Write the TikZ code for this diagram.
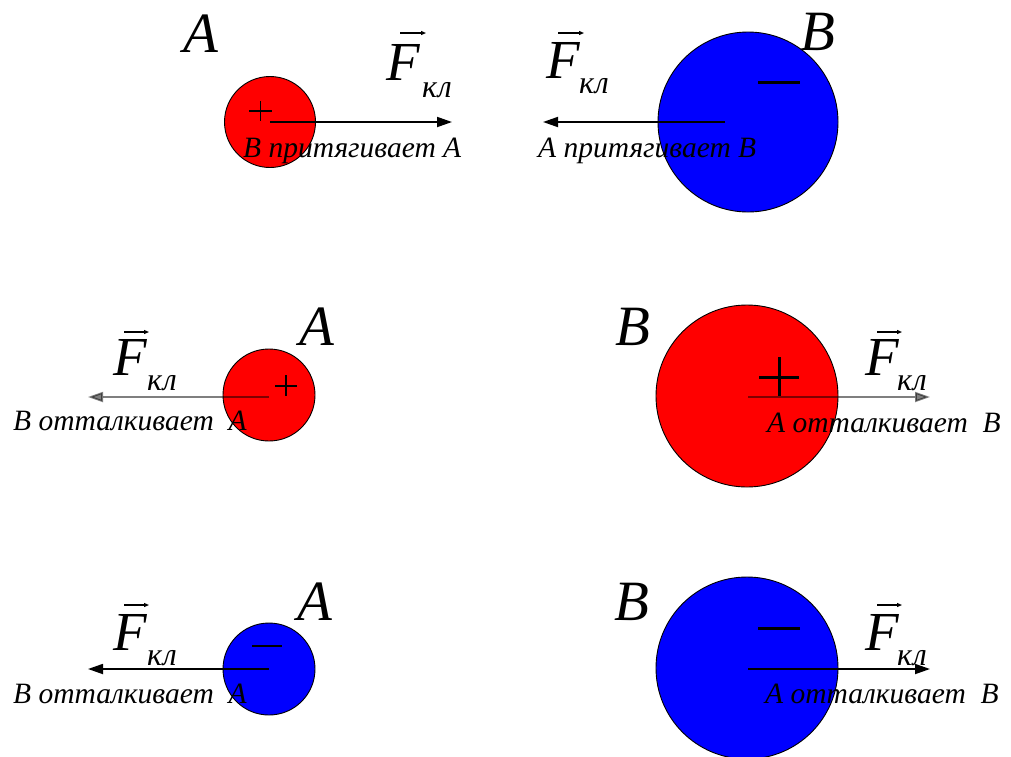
\documentclass[tikz,border=0pt]{standalone}
\usepackage{fontspec}
\setmainfont{Liberation Serif}
\usetikzlibrary{arrows.meta}
\begin{document}
\begin{tikzpicture}[x=1pt,y=-1pt,
  ball/.style={draw=black,line width=0.9pt},
  force/.style={line width=1.8pt,-{Triangle[length=15pt,width=10pt]}},
  faint/.style={draw opacity=0.5,fill opacity=0.5},
  big/.style={font=\fontsize{57}{60}\selectfont\itshape,inner sep=0pt,anchor=base west},
  fl/.style={font=\fontsize{55}{58}\selectfont\itshape,inner sep=0pt,anchor=base west},
  sub/.style={font=\fontsize{32}{36}\selectfont\itshape,inner sep=0pt,anchor=base west},
  txt/.style={font=\fontsize{29.5}{32}\selectfont\itshape,inner sep=0pt,anchor=base west},
  vec/.style={line width=1.1pt,-{Triangle[length=5pt,width=4pt]}},
  sign/.style={line width=1.6pt},
  bigsign/.style={line width=3pt}]
\useasboundingbox (0,0) rectangle (1011,756);
% ---------- row 1 ----------
\fill[red] (270,122) circle (45.5);
\draw[ball] (270,122) circle (45.5);
\fill[blue] (748,122) circle (90);
\draw[ball] (748,122) circle (90);
\coordinate (c1a) at (270,122);
\coordinate (t1a) at (452,122);
\coordinate (c1b) at (725,122);
\coordinate (t1b) at (543,122);
\draw[force] (c1a) -- (t1a);
\draw[force] (c1b) -- (t1b);
\draw[sign] (249,111) -- (272,111) (260.5,101) -- (260.5,121);
\draw[bigsign] (758,82) -- (800,82);
\node[big] (A1) at (183,52) {A};
\node[big] (B1) at (800,50) {B};
\node[fl] (F1a) at (386,80) {F};
\node[sub] (k1a) at (422,97) {кл};
\draw[vec] (400,33) -- (426,33);
\node[fl] (F1b) at (546,78) {F};
\node[sub] (k1b) at (579,93) {кл};
\draw[vec] (558,33) -- (584,33);
\node[txt] (s1a) at (243,157) {В притягивает А};
\node[txt] (s1b) at (538,157) {А притягивает В};
% ---------- row 2 ----------
\fill[red] (269,395) circle (46);
\draw[ball] (269,395) circle (46);
\fill[red] (747,396) circle (91);
\draw[ball] (747,396) circle (91);
\coordinate (c2a) at (269,397);
\coordinate (t2a) at (88,397);
\coordinate (c2b) at (748,397);
\coordinate (t2b) at (930,397);
\draw[force,faint] (c2a) -- (t2a);
\draw[force,faint] (c2b) -- (t2b);
\draw[sign] (275,386) -- (297,386) (286,375) -- (286,396);
\draw[bigsign] (759,377) -- (799,377) (779,357) -- (779,396);
\node[big] (A2) at (299,345) {A};
\node[big] (B2) at (615,345) {B};
\node[fl] (F2a) at (113,375) {F};
\node[sub] (k2a) at (147,390) {кл};
\draw[vec] (124,332) -- (149,332);
\node[fl] (F2b) at (865,375) {F};
\node[sub] (k2b) at (897,390) {кл};
\draw[vec] (877,332) -- (902,332);
\node[txt] (s2a) at (13,430) {В отталкивает\ \ А};
\node[txt] (s2b) at (767,432) {А отталкивает\ \ В};
% ---------- row 3 ----------
\fill[blue] (269,669) circle (46);
\draw[ball] (269,669) circle (46);
\fill[blue] (747,668) circle (91);
\draw[ball] (747,668) circle (91);
\coordinate (c3a) at (269,669);
\coordinate (t3a) at (88,669);
\coordinate (c3b) at (748,669);
\coordinate (t3b) at (930,669);
\draw[force] (c3a) -- (t3a);
\draw[force] (c3b) -- (t3b);
\draw[sign] (252,646) -- (282,646);
\draw[bigsign] (758,628) -- (800,628);
\node[big] (A3) at (297,620) {A};
\node[big] (B3) at (614,620) {B};
\node[fl] (F3a) at (113,650) {F};
\node[sub] (k3a) at (147,665) {кл};
\draw[vec] (124,605) -- (149,605);
\node[fl] (F3b) at (865,650) {F};
\node[sub] (k3b) at (897,665) {кл};
\draw[vec] (877,605) -- (902,605);
\node[txt] (s3a) at (13,703) {В отталкивает\ \ А};
\node[txt] (s3b) at (765,703) {А отталкивает\ \ В};
\end{tikzpicture}
\end{document}
